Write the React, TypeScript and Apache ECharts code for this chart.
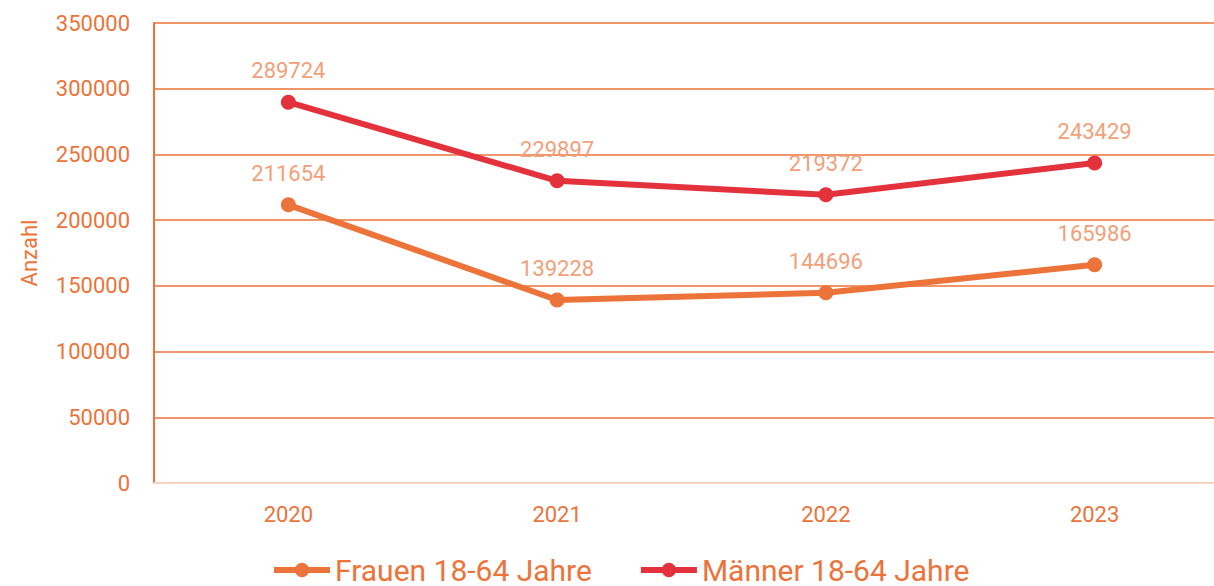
import React, { useEffect, useRef } from "react";
import * as echarts from "echarts";

const years = ["2020", "2021", "2022", "2023"];
const frauen = [211654, 139228, 144696, 165986];
const maenner = [289724, 229897, 219372, 243429];
const seriesNames = ["Frauen 18-64 Jahre", "Männer 18-64 Jahre"];
const yAxisName = "Anzahl";

const ORANGE = "#EC7339";
const RED = "#E3323C";
const LABEL = "#F2A07A";
const FONT = "Roboto";

export default function App() {
  const ref = useRef<HTMLDivElement>(null);
  useEffect(() => {
    if (!ref.current) return;
    const chart = echarts.init(ref.current, undefined, { renderer: "svg" });
    const labelCfg = {
      show: true,
      position: "top" as const,
      distance: 13,
      color: LABEL,
      fontSize: 22,
      fontFamily: FONT,
    };
    chart.setOption({
      animation: false,
      textStyle: { fontFamily: FONT },
      grid: { left: 154, top: 23, width: 1075, bottom: 103, containLabel: false },
      legend: {
        left: 266,
        top: 550,
        itemWidth: 56,
        itemHeight: 18,
        itemGap: 46,
        lineStyle: { width: 6 },
        textStyle: { color: ORANGE, fontSize: 30, lineHeight: 24, fontFamily: FONT },
        data: seriesNames,
      },
      xAxis: {
        type: "category",
        data: years,
        boundaryGap: true,
        axisLine: { show: true, lineStyle: { color: "#F9D3C0", width: 2 } },
        axisTick: { show: false },
        axisLabel: { color: ORANGE, fontSize: 22, margin: 20, fontFamily: FONT },
      },
      yAxis: {
        type: "value",
        min: 0,
        max: 350000,
        interval: 50000,
        name: yAxisName,
        nameLocation: "middle",
        nameGap: 114,
        nameRotate: 90,
        nameTextStyle: { color: ORANGE, fontSize: 22, fontFamily: FONT },
        axisLine: { show: true, lineStyle: { color: ORANGE, width: 2 } },
        axisTick: { show: false },
        axisLabel: {
          color: ORANGE,
          fontSize: 22,
          margin: 24,
          fontFamily: FONT,
          formatter: (v: number) => String(v),
        },
        splitLine: { show: true, lineStyle: { color: ORANGE, width: 1.5 } },
      },
      series: [
        {
          name: seriesNames[0],
          type: "line",
          data: frauen,
          color: ORANGE,
          symbol: "circle",
          symbolSize: 15,
          lineStyle: { width: 6, color: ORANGE },
          itemStyle: { color: ORANGE },
          label: labelCfg,
        },
        {
          name: seriesNames[1],
          type: "line",
          data: maenner,
          color: RED,
          symbol: "circle",
          symbolSize: 15,
          lineStyle: { width: 6, color: RED },
          itemStyle: { color: RED },
          label: labelCfg,
        },
      ],
    });
    return () => chart.dispose();
  }, []);
  return (
    <div
      style={{
        position: "fixed",
        left: 0,
        top: 0,
        width: 1214,
        height: 586,
        overflow: "hidden",
        background: "#fff",
      }}
    >
      <div ref={ref} style={{ width: 1240, height: 586 }} />
    </div>
  );
}
